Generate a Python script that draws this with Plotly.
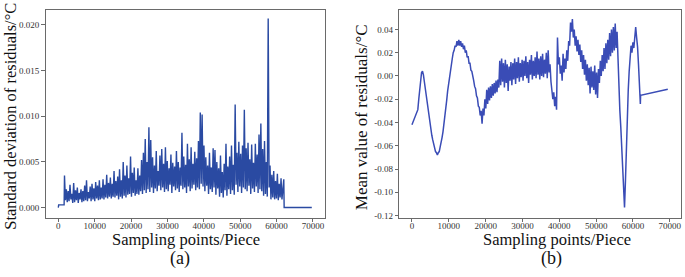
import numpy as np
import plotly.graph_objects as go

# ---------------- data ----------------
x_ticks = [0, 10000, 20000, 30000, 40000, 50000, 60000, 70000]
x_tick_labels = ["0", "10000", "20000", "30000", "40000", "50000", "60000", "70000"]

std_ticks = [0.0, 0.005, 0.010, 0.015, 0.020]
std_tick_labels = ["0.000", "0.005", "0.010", "0.015", "0.020"]
mean_ticks = [-0.12, -0.10, -0.08, -0.06, -0.04, -0.02, 0.0, 0.02, 0.04]
mean_tick_labels = ["-0.12", "-0.10", "-0.08", "-0.06", "-0.04", "-0.02", "0.00", "0.02", "0.04"]

# (a) standard deviation of residuals
std_head_x = [0, 100, 1600]
std_head = [0.0, 0.0003, 0.0003]
std_dense_start, std_dense_end = 1700, 62000
std_dense = [
    0.0035, 0.0008, 0.0020, 0.0006, 0.0018, 0.0007, 0.0025, 0.0009, 0.0015, 0.0005,
    0.0027, 0.0006, 0.0019, 0.0008, 0.0022, 0.0005, 0.0016, 0.0009, 0.0020, 0.0006,
    0.0018, 0.0007, 0.0024, 0.0008, 0.0030, 0.0007, 0.0017, 0.0010, 0.0023, 0.0007,
    0.0026, 0.0009, 0.0021, 0.0007, 0.0028, 0.0010, 0.0024, 0.0008, 0.0030, 0.0009,
    0.0022, 0.0010, 0.0031, 0.0009, 0.0025, 0.0011, 0.0036, 0.0010, 0.0027, 0.0012,
    0.0033, 0.0010, 0.0026, 0.0012, 0.0040, 0.0011, 0.0029, 0.0013, 0.0034, 0.0009,
    0.0042, 0.0012, 0.0030, 0.0010, 0.0050, 0.0013, 0.0035, 0.0011, 0.0046, 0.0014,
    0.0032, 0.0015, 0.0056, 0.0012, 0.0038, 0.0016, 0.0044, 0.0013, 0.0030, 0.0015,
    0.0043, 0.0014, 0.0035, 0.0018, 0.0052, 0.0015, 0.0060, 0.0019, 0.0075, 0.0016,
    0.0050, 0.0020, 0.0088, 0.0017, 0.0074, 0.0022, 0.0055, 0.0016, 0.0046, 0.0021,
    0.0062, 0.0018, 0.0040, 0.0024, 0.0057, 0.0019, 0.0064, 0.0022, 0.0048, 0.0017,
    0.0066, 0.0020, 0.0051, 0.0018, 0.0043, 0.0025, 0.0058, 0.0016, 0.0049, 0.0023,
    0.0045, 0.0019, 0.0062, 0.0021, 0.0050, 0.0017, 0.0044, 0.0024, 0.0082, 0.0020,
    0.0056, 0.0022, 0.0047, 0.0016, 0.0070, 0.0023, 0.0053, 0.0018, 0.0066, 0.0021,
    0.0048, 0.0025, 0.0061, 0.0019, 0.0054, 0.0022, 0.0073, 0.0020, 0.0104, 0.0026,
    0.0102, 0.0023, 0.0068, 0.0018, 0.0055, 0.0024, 0.0046, 0.0015, 0.0060, 0.0020,
    0.0044, 0.0017, 0.0065, 0.0022, 0.0063, 0.0014, 0.0050, 0.0021, 0.0043, 0.0012,
    0.0057, 0.0016, 0.0039, 0.0011, 0.0048, 0.0019, 0.0070, 0.0013, 0.0045, 0.0020,
    0.0056, 0.0015, 0.0068, 0.0019, 0.0047, 0.0014, 0.0113, 0.0025, 0.0060, 0.0017,
    0.0072, 0.0023, 0.0059, 0.0016, 0.0068, 0.0022, 0.0107, 0.0020, 0.0065, 0.0018,
    0.0071, 0.0024, 0.0053, 0.0015, 0.0069, 0.0021, 0.0049, 0.0017, 0.0070, 0.0023,
    0.0058, 0.0016, 0.0080, 0.0020, 0.0092, 0.0018, 0.0064, 0.0013, 0.0073, 0.0015,
    0.0050, 0.0012, 0.0207, 0.0022, 0.0046, 0.0009, 0.0036, 0.0011, 0.0040, 0.0009,
    0.0029, 0.0010, 0.0037, 0.0008, 0.0026, 0.0011, 0.0032, 0.0009, 0.0021, 0.0031,
]
std_tail_x = [62100, 69700]
std_tail = [0.0, 0.0]

# (b) mean value of residuals
mean_head_x = [0]
mean_head = [-0.042]
mean_dense_start, mean_dense_end = 1600, 62000
mean_dense = [
    -0.029, -0.020, -0.011, -0.002, 0.003, 0.004, 0.001, -0.005, -0.011, -0.017,
    -0.024, -0.030, -0.036, -0.041, -0.046, -0.051, -0.055, -0.059, -0.062, -0.065,
    -0.066, -0.068, -0.066, -0.065, -0.061, -0.058, -0.053, -0.048, -0.042, -0.035,
    -0.028, -0.021, -0.013, -0.007, 0.001, 0.006, 0.012, 0.015, 0.020, 0.022,
    0.026, 0.025, 0.030, 0.026, 0.031, 0.026, 0.030, 0.025, 0.028, 0.023,
    0.026, 0.020, 0.022, 0.016, 0.017, 0.011, 0.011, 0.005, 0.004, -0.002,
    -0.004, -0.009, -0.011, -0.017, -0.019, -0.026, -0.027, -0.034, -0.030, -0.041,
    -0.028, -0.034, -0.020, -0.028, -0.012, -0.024, -0.010, -0.021, -0.009, -0.019,
    -0.007, -0.017, -0.006, -0.015, -0.004, -0.014, -0.003, -0.010, 0.013, -0.008,
    0.015, -0.005, 0.011, -0.010, 0.014, -0.006, 0.010, -0.013, 0.008, -0.004,
    0.012, -0.008, 0.011, -0.003, 0.015, -0.007, 0.012, -0.002, 0.016, -0.005,
    0.011, -0.001, 0.014, -0.004, 0.013, 0.000, 0.017, -0.002, 0.012, -0.006,
    0.014, 0.001, 0.018, -0.003, 0.013, 0.000, 0.016, -0.002, 0.021, 0.001,
    0.015, -0.003, 0.017, 0.000, 0.019, -0.001, 0.014, 0.002, 0.020, -0.002,
    0.022, 0.003, 0.010, -0.005, -0.012, -0.020, -0.014, -0.026, -0.018, -0.029,
    0.033, 0.010, 0.016, 0.002, 0.009, -0.004, 0.019, 0.003, 0.015, 0.006,
    0.022, 0.013, 0.030, 0.026, 0.046, 0.038, 0.049, 0.033, 0.040, 0.026,
    0.034, 0.021, 0.031, 0.018, 0.027, 0.012, 0.022, 0.006, 0.018, 0.001,
    0.014, -0.004, 0.010, -0.008, 0.007, -0.015, 0.008, -0.010, 0.004, -0.012,
    0.009, -0.016, 0.003, -0.019, 0.006, -0.006, 0.013, 0.000, 0.018, 0.004,
    0.024, 0.006, 0.028, 0.011, 0.031, 0.014, 0.037, 0.017, 0.040, 0.020,
    0.042, 0.022, 0.045, 0.024, 0.038, 0.012, -0.008, -0.030, -0.044, -0.062,
    -0.085, -0.103, -0.113, -0.090, -0.060, -0.035, -0.012, 0.004, 0.016, 0.026,
    0.020, 0.029, 0.024, 0.036, 0.042, 0.033, 0.025, 0.010, -0.005, -0.024,
]
mean_tail_x = [62070, 69450]
mean_tail = [-0.0166, -0.0115]

# ---------------- assemble series ----------------
std_x = list(std_head_x) + list(np.linspace(std_dense_start, std_dense_end, len(std_dense))) + list(std_tail_x)
std_y = list(std_head) + list(std_dense) + list(std_tail)
mean_x = list(mean_head_x) + list(np.linspace(mean_dense_start, mean_dense_end, len(mean_dense))) + list(mean_tail_x)
mean_y = list(mean_head) + list(mean_dense) + list(mean_tail)

W, H = 685, 277
FONT = "Liberation Serif"

fig = go.Figure()
fig.add_trace(go.Scatter(x=std_x, y=std_y, mode="lines",
                         line=dict(color="#2a4aa2", width=1.4),
                         xaxis="x", yaxis="y", showlegend=False, hoverinfo="skip"))
fig.add_trace(go.Scatter(x=mean_x, y=mean_y, mode="lines",
                         line=dict(color="#3a4cb6", width=1.5),
                         xaxis="x2", yaxis="y2", showlegend=False, hoverinfo="skip"))

axis_common = dict(showline=True, mirror=True, linecolor="#6a6a6a", linewidth=1,
                   ticks="outside", ticklen=3.5, tickwidth=1, tickcolor="#6a6a6a",
                   showgrid=False, zeroline=False,
                   tickfont=dict(family=FONT, size=9, color="#333333"))

y_dom = [1 - 220 / H, 1 - 10 / H]

fig.update_layout(
    width=W, height=H,
    margin=dict(l=0, r=0, t=0, b=0),
    paper_bgcolor="white", plot_bgcolor="white",
    font=dict(family=FONT),
    xaxis=dict(domain=[45.7 / W, 325 / W], range=[-3485, 73200], ticklabelstandoff=-4,
               tickvals=x_ticks, ticktext=x_tick_labels, anchor="y", **axis_common),
    yaxis=dict(domain=y_dom, range=[-0.00110, 0.02165],
               tickvals=std_ticks, ticktext=std_tick_labels, anchor="x", **axis_common),
    xaxis2=dict(domain=[400 / W, 681.5 / W], range=[-3400, 72900], ticklabelstandoff=-4,
                tickvals=x_ticks, ticktext=x_tick_labels, anchor="y2", **axis_common),
    yaxis2=dict(domain=y_dom, range=[-0.1218, 0.0568],
                tickvals=mean_ticks, ticktext=mean_tick_labels, anchor="x2", **axis_common),
)

def ann(text, x, y, size, angle=0):
    fig.add_annotation(text=text, x=x / W, y=1 - y / H, xref="paper", yref="paper",
                       xanchor="center", yanchor="middle", showarrow=False, textangle=angle,
                       font=dict(family=FONT, size=size, color="#111111"))

ann("Sampling points/Piece", 186, 242, 16.5)
ann("Sampling points/Piece", 558, 242, 16.5)
ann("(a)", 180, 261, 18)
ann("(b)", 552, 261, 18)
ann("Standard deviation of residuals/°C", 11, 117, 16.5, -90)
ann("Mean value of residuals/°C", 362, 118, 17, -90)

fig.write_html("out.html", config={"displayModeBar": False},
               post_script="document.body.style.margin='0px';document.body.style.overflow='hidden';")
